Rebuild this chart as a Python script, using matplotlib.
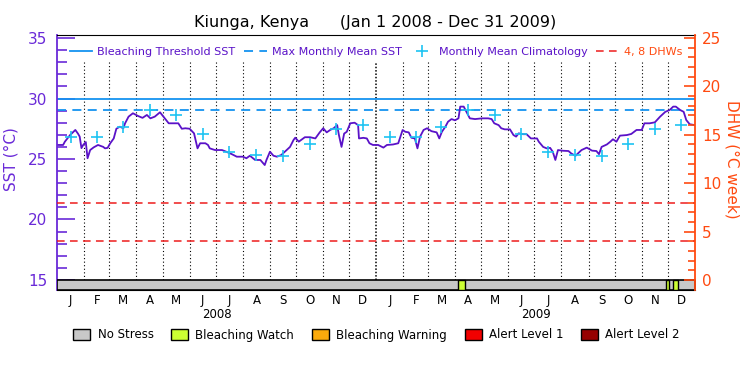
import numpy as np
import matplotlib.pyplot as plt
from matplotlib.patches import Patch
from matplotlib.lines import Line2D

# Daily SST trace, day 0 = Jan 1 2008
sst_day = [0, 7, 9, 15, 21, 24, 26, 28, 30, 33, 35, 38, 42, 47, 53, 55, 58, 61, 65, 68,
           72, 76, 78, 82, 87, 93, 98, 103, 107, 112, 118, 122, 128, 133, 139, 143, 147,
           152, 157, 161, 164, 170, 173, 175, 181, 189, 194, 200, 206, 213, 217, 221, 227,
           233, 238, 240, 244, 248, 252, 257, 261, 267, 271, 273, 277, 282, 284, 290, 296,
           301, 305, 309, 313, 317, 321, 323, 326, 329, 332, 336, 341, 345, 346, 351, 355,
           358, 362, 368, 374, 378, 385, 391, 396, 399, 403, 406, 410, 413, 416, 420, 424,
           429, 435, 438, 441, 445, 448, 452, 456, 460, 462, 466, 468, 473, 479, 487, 494,
           498, 501, 506, 509, 513, 519, 523, 526, 529, 534, 538, 543, 550, 552, 557, 561,
           565, 568, 571, 574, 580, 586, 589, 594, 597, 601, 607, 613, 618, 621, 624, 630,
           634, 637, 641, 645, 653, 658, 664, 670, 673, 679, 685, 691, 697, 702, 706, 709,
           714, 718, 721, 725, 731]
sst_val = [26.16, 26.16, 26.43, 26.98, 27.40, 27.10, 26.85, 25.90, 26.16, 26.40, 25.06,
           25.74, 25.96, 26.16, 26.00, 25.88, 25.92, 26.30, 26.70, 27.50, 27.67, 27.54,
           27.95, 28.50, 28.78, 28.55, 28.40, 28.64, 28.36, 28.50, 28.86, 28.50, 27.95,
           27.95, 27.95, 27.50, 27.54, 27.50, 27.12, 25.88, 26.30, 26.30, 26.16, 25.88,
           25.74, 25.74, 25.60, 25.41, 25.19, 25.19, 25.06, 25.27, 24.92, 24.92, 24.50,
           24.92, 25.60, 25.27, 25.19, 25.33, 25.60, 26.00, 26.57, 26.76, 26.43, 26.70,
           26.80, 26.80, 26.70, 27.20, 27.54, 27.20, 27.40, 27.54, 27.80, 26.98, 26.00,
           27.10, 27.25, 27.95, 28.00, 27.80, 26.70, 26.75, 26.70, 26.30, 26.16, 26.16,
           25.94, 26.16, 26.20, 26.30, 27.40, 27.25, 27.20, 26.76, 26.70, 25.88, 26.85,
           27.40, 27.54, 27.30, 27.20, 26.70, 27.25, 27.67, 28.08, 28.30, 28.20, 28.36,
           29.33, 29.33, 29.05, 28.36, 28.30, 28.36, 28.36, 28.30, 27.95, 27.80, 27.54,
           27.45, 27.45, 26.98, 26.85, 27.12, 27.05, 27.05, 26.70, 26.70, 26.43, 26.00,
           25.88, 25.92, 25.60, 24.92, 25.74, 25.68, 25.66, 25.47, 25.26, 25.47, 25.74,
           25.94, 25.69, 25.66, 25.40, 26.00, 26.20, 26.43, 26.63, 26.43, 26.93, 26.98,
           27.07, 27.40, 27.40, 27.95, 27.95, 28.03, 28.50, 28.90, 29.05, 29.33, 29.33,
           29.05, 28.90, 28.22, 27.87, 27.80]

# Monthly mean climatology (Jan..Dec), repeated for both years
clim = [26.80, 26.82, 27.64, 29.02, 28.60, 27.07, 25.54, 25.29, 25.22, 26.20, 27.45, 27.78]
mmm = 29.02
threshold = 30.0
dhw_levels = [4, 8]

# Bleaching watch periods (start day, end day)
watch_start = [459, 698, 706]
watch_end = [468, 701, 712]

month_letters = ["J", "F", "M", "A", "M", "J", "J", "A", "S", "O", "N", "D"]
years = ["2008", "2009"]

PURPLE = "#5a12c8"
AXIS_PURPLE = "#6a2ad8"
ORANGE = "#ff4a10"
BLUE = "#1593f0"
CYAN = "#1ec4f2"
RED = "#ee1c1c"
GREY = "#c8c8c8"
WATCH = "#ccff33"

months = np.arange("2008-01", "2010-02", dtype="datetime64[M]")
month_start = (months.astype("datetime64[D]") - np.datetime64("2008-01-01")).astype(int)
month_mid = (month_start[:-1] + month_start[1:]) / 2.0
n_days = month_start[-1]
year_mid = [month_start[0] + (month_start[12] - month_start[0]) / 2,
            month_start[12] + (month_start[24] - month_start[12]) / 2]

Y_BOTTOM, Y_TOP = 14.17, 35.25

fig = plt.figure(figsize=(7.5, 3.75), dpi=100)
ax = fig.add_axes([57 / 750, 1 - 290 / 375, 638 / 750, 255 / 375])
ax2 = ax.twinx()

ax.set_xlim(0, n_days)
ax.set_ylim(Y_BOTTOM, Y_TOP)
ax2.set_ylim((Y_BOTTOM - 15) * 1.25, (Y_TOP - 15) * 1.25)

# month grid
for d in month_start[1:-1]:
    if d == month_start[12]:
        ax.vlines(d, 15, 33.0, colors="black", linewidth=1.1, linestyles=(0, (1, 1.2)))
    else:
        ax.vlines(d, 15, 33.0, colors="black", linewidth=0.8, linestyles=(0, (1, 2.2)))

ax.axhline(threshold, color=BLUE, lw=1.3)
ax.axhline(mmm, color=BLUE, lw=1.3, ls=(0, (5, 3.5)))
for lev in dhw_levels:
    ax2.axhline(lev, color=RED, lw=1.1, ls=(0, (5, 3.5)))

ax.plot(sst_day, sst_val, color=PURPLE, lw=1.3)
ax.plot(month_mid, clim * 2, ls="none", marker="+", ms=9, mew=1.2, color=CYAN)

# stress bar
ax.broken_barh([(0, n_days)], (Y_BOTTOM, 15 - Y_BOTTOM), facecolor=GREY,
               edgecolor="black", lw=1.2, zorder=3)
ax.broken_barh([(s, e - s) for s, e in zip(watch_start, watch_end)],
               (Y_BOTTOM, 15 - Y_BOTTOM), facecolor=WATCH, edgecolor="black",
               lw=1.0, zorder=4)

# axes styling
ax.spines["left"].set_color(AXIS_PURPLE)
ax.spines["left"].set_linewidth(1.3)
ax.spines["right"].set_visible(False)
ax2.spines["left"].set_visible(False)
ax2.spines["top"].set_visible(False)
ax2.spines["bottom"].set_visible(False)
ax2.spines["right"].set_color(ORANGE)
ax2.spines["right"].set_linewidth(1.3)

ax.set_yticks([15, 20, 25, 30, 35])
ax.set_yticks(np.arange(15, 36, 1), minor=True)
ax.tick_params(axis="y", which="major", direction="in", length=13, width=1.2,
               color=AXIS_PURPLE, labelcolor=AXIS_PURPLE, labelsize=11, pad=7)
ax.tick_params(axis="y", which="minor", direction="in", length=7, width=1.2,
               color=AXIS_PURPLE)
ax2.set_yticks([0, 5, 10, 15, 20, 25])
ax2.set_yticks(np.arange(0, 26, 1), minor=True)
ax2.tick_params(axis="y", which="major", direction="in", length=8, width=1.2,
                color=ORANGE, labelcolor=ORANGE, labelsize=11, pad=5)
ax2.tick_params(axis="y", which="minor", direction="in", length=5, width=1.2,
                color=ORANGE)

ax.set_xticks(month_mid)
ax.set_xticklabels(month_letters * 2)
ax.tick_params(axis="x", length=0, labelsize=8.5, pad=3)
for i, y in enumerate(years):
    ax.text(year_mid[i], -0.098, y, transform=ax.get_xaxis_transform(),
            ha="center", va="center", fontsize=8.5)

ax.set_ylabel("SST (°C)", color=AXIS_PURPLE, fontsize=11)
ax.yaxis.set_label_coords(-0.061, 0.514)
ax2.set_ylabel("DHW (°C week)", color=ORANGE, fontsize=11, rotation=270, va="center")
ax2.yaxis.set_label_coords(1.058, 0.514)

fig.text(0.5, 1 - 22 / 375, "Kiunga, Kenya      (Jan 1 2008 - Dec 31 2009)",
         ha="center", va="center", fontsize=11.5)

# legend inside plot
handles = [Line2D([], [], color=BLUE, lw=1.3),
           Line2D([], [], color=BLUE, lw=1.3, ls=(0, (5, 3.5))),
           Line2D([], [], color=CYAN, ls="none", marker="+", ms=9, mew=1.2),
           Line2D([], [], color=RED, lw=1.1, ls=(0, (5, 3.5)))]
labels = ["Bleaching Threshold SST", "Max Monthly Mean SST",
          "Monthly Mean Climatology", "4, 8 DHWs"]
ax2.legend(handles, labels, ncol=4, loc="center", bbox_to_anchor=(0.5, 0.934),
           frameon=False, fontsize=8, handlelength=2.0, handletextpad=0.5,
           columnspacing=0.8, labelcolor=[PURPLE, PURPLE, PURPLE, ORANGE])

# stress legend
stress_labels = ["No Stress", "Bleaching Watch", "Bleaching Warning",
                 "Alert Level 1", "Alert Level 2"]
stress_colors = [GREY, WATCH, "#fbaa0c", "#f20000", "#960000"]
fig.legend([Patch(facecolor=c, edgecolor="black", lw=1.0) for c in stress_colors],
           stress_labels, ncol=5, loc="center", bbox_to_anchor=(0.502, 1 - 335 / 375),
           frameon=False, fontsize=8.5, handlelength=1.45, handleheight=0.95,
           handletextpad=0.6, columnspacing=1.5)

fig.savefig("out.png", dpi=100)
